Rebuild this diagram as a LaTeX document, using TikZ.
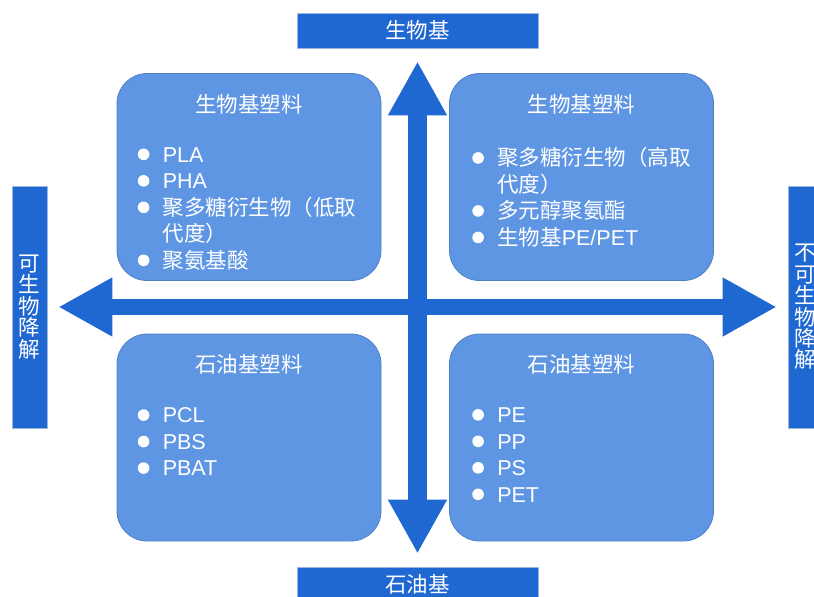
\documentclass[tikz,border=0pt]{standalone}
\usepackage{fontspec}
\setmainfont{Liberation Sans}
\newfontfamily\cjk{Noto Sans CJK SC}
\usetikzlibrary{arrows.meta}
\definecolor{axisblue}{HTML}{2068D1}
\definecolor{labeledge}{HTML}{9DB8E0}
\definecolor{quadblue}{HTML}{5F96E3}
\definecolor{quadedge}{HTML}{4F80C6}
% white list bullet
\newcommand{\bul}{\makebox[25pt][l]{\tikz[baseline=-0.36em]\fill[white] (5.8pt,0pt) circle[radius=5.8pt];}}

\begin{document}
\begin{tikzpicture}[x=1pt, y=-1pt]
  \tikzset{
    axislabel/.style = {draw=labeledge, line width=0.6pt, fill=axisblue, text=white,
      inner sep=0pt, align=center, font=\cjk\fontsize{21.5}{21.4}\selectfont},
    quad/.style = {draw=quadedge, line width=0.8pt, fill=quadblue, rounded corners=30pt,
      minimum width=264pt, minimum height=207pt},
    quadhead/.style = {text=white, font=\cjk\fontsize{21.5}{26}\selectfont},
    quadlist/.style = {text=white, align=left, anchor=north west, inner sep=0pt,
      font=\fontsize{21.5}{26.5}\selectfont},
    axistip/.tip = {Triangle[width=55pt, length=54pt]},
    axisarrow/.style = {axisblue, axistip-axistip}
  }
  \useasboundingbox (0, 0) rectangle (814, 597);

  % axis labels
  \node[axislabel, minimum width=241pt, minimum height=35pt] (bio) at (417.5, 30.5) {生物基};
  \node[axislabel, minimum width=241pt, minimum height=35pt] (petro) at (417.5, 584.5) {石油基};
  \node[axislabel, minimum width=35pt, minimum height=242pt] (degr) at (29.5, 307) {可\\生\\物\\降\\解};
  \node[axislabel, minimum width=35pt, minimum height=242pt] (nondegr) at (805.5, 307) {不\\可\\生\\物\\降\\解};

  % quadrants
  \node[quad] (tl) at (249, 177) {};
  \node[quad] (tr) at (581.5, 177) {};
  \node[quad] (bl) at (249, 437.5) {};
  \node[quad] (br) at (581.5, 437.5) {};

  \node[quadhead] (tlhead) at ([yshift=-31pt]tl.north) {生物基塑料};
  \node[quadhead] (trhead) at ([yshift=-31pt]tr.north) {生物基塑料};
  \node[quadhead] (blhead) at ([yshift=-31pt]bl.north) {石油基塑料};
  \node[quadhead] (brhead) at ([yshift=-31pt]br.north) {石油基塑料};

  \node[quadlist] (tllist) at ([shift={(21, 74)}]tl.north west)
    {\bul PLA\\ \bul PHA\\ \bul{\cjk 聚多糖衍生物（低取}\\ \hspace*{25pt}{\cjk 代度）}\\ \bul{\cjk 聚氨基酸}};
  \node[quadlist] (trlist) at ([shift={(23, 74)}]tr.north west)
    {\bul{\cjk 聚多糖衍生物（高取}\\ \hspace*{25pt}{\cjk 代度）}\\ \bul{\cjk 多元醇聚氨酯}\\ \bul{\cjk 生物基}PE/PET};
  \node[quadlist] (bllist) at ([shift={(21, 74)}]bl.north west)
    {\bul PCL\\ \bul PBS\\ \bul PBAT};
  \node[quadlist] (brlist) at ([shift={(23, 74)}]br.north west)
    {\bul PE\\ \bul PP\\ \bul PS\\ \bul PET};

  % axes
  \draw[axisarrow, line width=19pt, shorten <=13pt, shorten >=13pt] (bio.south) -- (petro.north);
  \draw[axisarrow, line width=16.5pt, shorten <=11pt, shorten >=11pt] (degr.east) -- (nondegr.west);
\end{tikzpicture}
\end{document}
